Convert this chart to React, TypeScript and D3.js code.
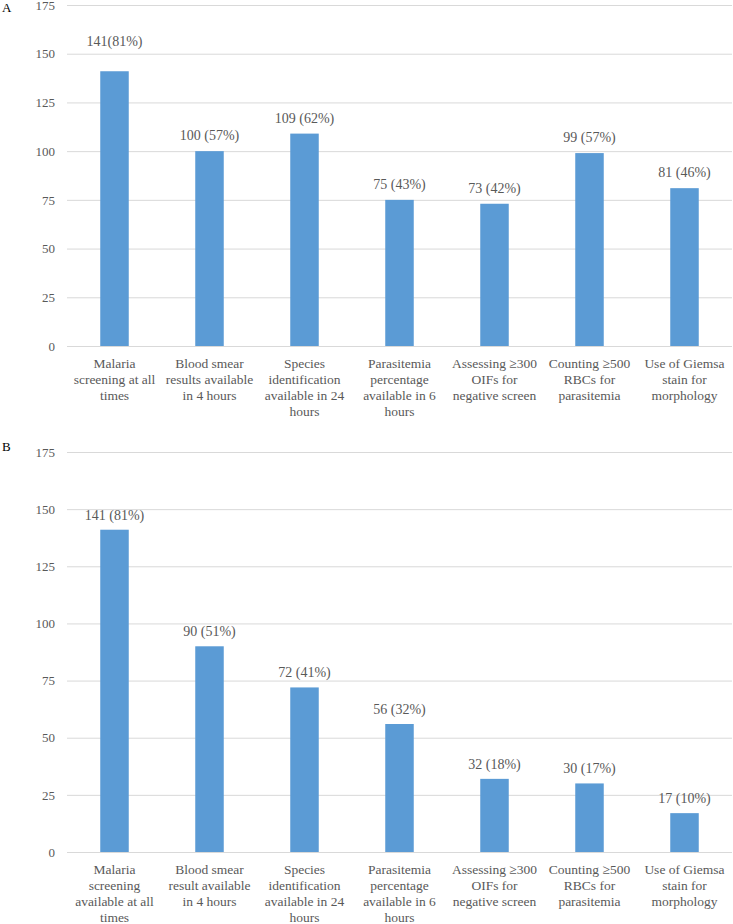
import { axisLeft, scaleBand, scaleLinear, select } from "d3";
import { useEffect, useRef } from "react";

const categoriesA = [
  ["Malaria", "screening at all", "times"],
  ["Blood smear", "results available", "in 4 hours"],
  ["Species", "identification", "available in 24", "hours"],
  ["Parasitemia", "percentage", "available in 6", "hours"],
  ["Assessing \u2265300", "OIFs for", "negative screen"],
  ["Counting \u2265500", "RBCs for", "parasitemia"],
  ["Use of Giemsa", "stain for", "morphology"],
];

const categoriesB = [
  ["Malaria", "screening", "available at all", "times"],
  ["Blood smear", "result available", "in 4 hours"],
  ["Species", "identification", "available in 24", "hours"],
  ["Parasitemia", "percentage", "available in 6", "hours"],
  ["Assessing \u2265300", "OIFs for", "negative screen"],
  ["Counting \u2265500", "RBCs for", "parasitemia"],
  ["Use of Giemsa", "stain for", "morphology"],
];

const valuesA = [141, 100, 109, 75, 73, 99, 81];
const labelsA = ["141(81%)", "100 (57%)", "109 (62%)", "75 (43%)", "73 (42%)", "99 (57%)", "81 (46%)"];

const valuesB = [141, 90, 72, 56, 32, 30, 17];
const labelsB = ["141 (81%)", "90 (51%)", "72 (41%)", "56 (32%)", "32 (18%)", "30 (17%)", "17 (10%)"];

const yTicks = [0, 25, 50, 75, 100, 125, 150, 175];

// label lift above bar top (px); first label of A was dragged higher
const liftA = [25, 11, 11, 11, 11, 11, 11];
const liftB = [10, 10, 10, 10, 10, 10, 10];

const FONT = "'Liberation Serif', 'Times New Roman', serif";
const TEXT = "#595959";
const GRID = "#d9d9d9";
const BAR = "#5b9bd5";

function drawPanel(svg: any, opts: any) {
  const { letter, letterY, top, bottom, cats, values, labels, lift } = opts;
  const names = cats.map((c: string[]) => c.join(" "));

  const x = scaleBand()
    .domain(names)
    .range([67, 732])
    .paddingInner(0.7)
    .paddingOuter(0.35);
  const y = scaleLinear().domain([0, 175]).range([bottom, top]);

  const g = svg.append("g");

  g.append("text")
    .attr("x", 2)
    .attr("y", letterY)
    .style("font-family", FONT)
    .style("font-size", "13px")
    .attr("fill", "#000")
    .text(letter);

  // grid + y labels
  const ax = g
    .append("g")
    .attr("transform", "translate(67,0)")
    .call(
      axisLeft(y)
        .tickValues(yTicks)
        .tickSize(-665)
        .tickPadding(12)
    );
  ax.select(".domain").remove();
  ax.selectAll(".tick line").attr("stroke", GRID).attr("stroke-width", 1);
  ax.selectAll(".tick text")
    .attr("fill", TEXT)
    .style("font-family", FONT)
    .style("font-size", "13px");

  // bars
  g.selectAll("rect.bar")
    .data(values)
    .join("rect")
    .attr("class", "bar")
    .attr("x", (_d: number, i: number) => x(names[i]))
    .attr("width", x.bandwidth())
    .attr("y", (d: number) => y(d))
    .attr("height", (d: number) => y(0) - y(d))
    .attr("fill", BAR);

  // value labels
  g.selectAll("text.val")
    .data(values)
    .join("text")
    .attr("class", "val")
    .attr("x", (_d: number, i: number) => x(names[i])! + x.bandwidth() / 2)
    .attr("y", (d: number, i: number) => y(d) - lift[i])
    .attr("text-anchor", "middle")
    .attr("fill", TEXT)
    .style("font-family", FONT)
    .style("font-size", "14px")
    .text((_d: number, i: number) => labels[i]);

  // category labels
  const cl = g
    .selectAll("text.cat")
    .data(cats)
    .join("text")
    .attr("class", "cat")
    .attr("text-anchor", "middle")
    .attr("fill", TEXT)
    .style("font-family", FONT)
    .style("font-size", "13.5px");
  cl.each(function (this: any, lines: string[], i: number) {
    const cx = x(names[i])! + x.bandwidth() / 2;
    select(this)
      .selectAll("tspan")
      .data(lines)
      .join("tspan")
      .attr("x", cx)
      .attr("y", (_l: string, j: number) => bottom + 21.5 + j * 16)
      .text((l: string) => l);
  });
}

function App() {
  const svgRef = useRef(null);

  useEffect(() => {
    const svg = select(svgRef.current);
    svg.selectAll("*").remove();

    drawPanel(svg, {
      letter: "A",
      letterY: 12,
      top: 5,
      bottom: 346,
      cats: categoriesA,
      values: valuesA,
      labels: labelsA,
      lift: liftA,
    });
    drawPanel(svg, {
      letter: "B",
      letterY: 451,
      top: 452,
      bottom: 852,
      cats: categoriesB,
      values: valuesB,
      labels: labelsB,
      lift: liftB,
    });
  }, []);

  return (
    <svg
      ref={svgRef}
      width={733}
      height={924}
      style={{ position: "absolute", left: 0, top: 0, background: "#fff" }}
    ></svg>
  );
}

export default App;
